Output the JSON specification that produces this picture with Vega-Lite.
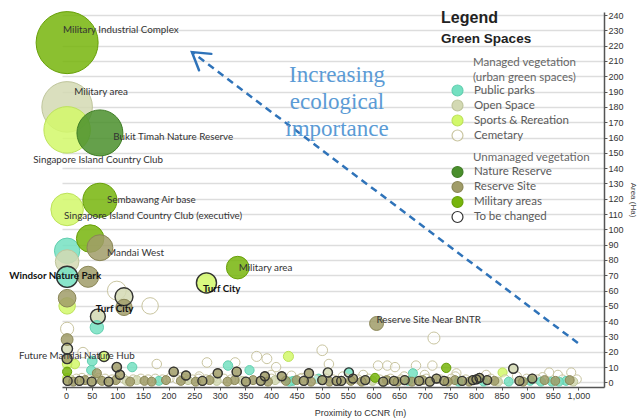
{
  "$schema": "https://vega.github.io/schema/vega-lite/v6.json",
  "width": 542,
  "height": 375,
  "autosize": {"type": "none"},
  "padding": {"left": 62, "top": 12, "right": 34, "bottom": 33},
  "background": "white",
  "config": {
    "view": {"stroke": null},
    "legend": {"padding": 0}
  },
  "datasets": {
    "spaces": [
      {"proximity": 2, "area": 222, "type": "Military areas", "changed": 0},
      {"proximity": 2, "area": 180, "type": "Open Space", "changed": 0},
      {"proximity": 2, "area": 165, "type": "Sports & Rereation", "changed": 0},
      {"proximity": 66, "area": 163, "type": "Nature Reserve", "changed": 0},
      {"proximity": 66, "area": 119, "type": "Military areas", "changed": 0},
      {"proximity": 2, "area": 113, "type": "Sports & Rereation", "changed": 0},
      {"proximity": 47, "area": 94, "type": "Military areas", "changed": 0},
      {"proximity": 66, "area": 88, "type": "Reserve Site", "changed": 0},
      {"proximity": 2, "area": 86, "type": "Public parks", "changed": 0},
      {"proximity": 2, "area": 79, "type": "Open Space", "changed": 0},
      {"proximity": 2, "area": 69, "type": "Public parks", "changed": 1},
      {"proximity": 43, "area": 69, "type": "Reserve Site", "changed": 0},
      {"proximity": 99, "area": 60, "type": "Cemetary", "changed": 0},
      {"proximity": 113, "area": 56, "type": "Open Space", "changed": 1},
      {"proximity": 113, "area": 49, "type": "Reserve Site", "changed": 0},
      {"proximity": 164, "area": 50, "type": "Cemetary", "changed": 0},
      {"proximity": 2, "area": 55, "type": "Reserve Site", "changed": 0},
      {"proximity": 2, "area": 50, "type": "Sports & Rereation", "changed": 0},
      {"proximity": 62, "area": 43, "type": "Open Space", "changed": 1},
      {"proximity": 60, "area": 36, "type": "Public parks", "changed": 0},
      {"proximity": 2, "area": 35, "type": "Cemetary", "changed": 0},
      {"proximity": 2, "area": 28, "type": "Reserve Site", "changed": 0},
      {"proximity": 274, "area": 65, "type": "Sports & Rereation", "changed": 1},
      {"proximity": 335, "area": 75, "type": "Military areas", "changed": 0},
      {"proximity": 606, "area": 38.5, "type": "Reserve Site", "changed": 0},
      {"proximity": 718, "area": 29, "type": "Cemetary", "changed": 0},
      {"proximity": 500, "area": 21, "type": "Cemetary", "changed": 0},
      {"proximity": 434, "area": 17, "type": "Sports & Rereation", "changed": 0},
      {"proximity": 74, "area": 17, "type": "Sports & Rereation", "changed": 1},
      {"proximity": 2, "area": 22, "type": "Open Space", "changed": 1},
      {"proximity": 2, "area": 15.5, "type": "Reserve Site", "changed": 1},
      {"proximity": 33, "area": 19.5, "type": "Cemetary", "changed": 0},
      {"proximity": 17, "area": 12, "type": "Sports & Rereation", "changed": 0},
      {"proximity": 2, "area": 12, "type": "Sports & Rereation", "changed": 0},
      {"proximity": 2, "area": 7, "type": "Military areas", "changed": 0},
      {"proximity": 2, "area": 3, "type": "Sports & Rereation", "changed": 0},
      {"proximity": 51, "area": 14, "type": "Public parks", "changed": 0},
      {"proximity": 49, "area": 8, "type": "Public parks", "changed": 0},
      {"proximity": 60, "area": 6, "type": "Reserve Site", "changed": 0},
      {"proximity": 99, "area": 10, "type": "Reserve Site", "changed": 1},
      {"proximity": 105, "area": 5, "type": "Reserve Site", "changed": 1},
      {"proximity": 129, "area": 10, "type": "Public parks", "changed": 0},
      {"proximity": 177, "area": 12, "type": "Cemetary", "changed": 0},
      {"proximity": 210, "area": 7, "type": "Reserve Site", "changed": 1},
      {"proximity": 234, "area": 4.5, "type": "Reserve Site", "changed": 1},
      {"proximity": 275, "area": 13, "type": "Cemetary", "changed": 0},
      {"proximity": 316, "area": 11, "type": "Public parks", "changed": 0},
      {"proximity": 330, "area": 13, "type": "Cemetary", "changed": 0},
      {"proximity": 296, "area": 6, "type": "Reserve Site", "changed": 1},
      {"proximity": 333, "area": 7, "type": "Reserve Site", "changed": 1},
      {"proximity": 358, "area": 8, "type": "Public parks", "changed": 0},
      {"proximity": 372, "area": 17, "type": "Cemetary", "changed": 0},
      {"proximity": 392, "area": 15.5, "type": "Cemetary", "changed": 0},
      {"proximity": 388, "area": 4, "type": "Reserve Site", "changed": 1},
      {"proximity": 421, "area": 4, "type": "Reserve Site", "changed": 1},
      {"proximity": 410, "area": 10, "type": "Cemetary", "changed": 0},
      {"proximity": 474, "area": 6, "type": "Reserve Site", "changed": 1},
      {"proximity": 493, "area": 2.5, "type": "Public parks", "changed": 0},
      {"proximity": 511, "area": 6.5, "type": "Open Space", "changed": 1},
      {"proximity": 513, "area": 12, "type": "Cemetary", "changed": 0},
      {"proximity": 552, "area": 6.5, "type": "Public parks", "changed": 1},
      {"proximity": 560, "area": 2.5, "type": "Reserve Site", "changed": 1},
      {"proximity": 609, "area": 11, "type": "Cemetary", "changed": 0},
      {"proximity": 627, "area": 11, "type": "Cemetary", "changed": 0},
      {"proximity": 642, "area": 10, "type": "Cemetary", "changed": 0},
      {"proximity": 603, "area": 3, "type": "Military areas", "changed": 0},
      {"proximity": 677, "area": 6, "type": "Public parks", "changed": 0},
      {"proximity": 683, "area": 11, "type": "Cemetary", "changed": 0},
      {"proximity": 715, "area": 11, "type": "Cemetary", "changed": 0},
      {"proximity": 742, "area": 9.5, "type": "Military areas", "changed": 0},
      {"proximity": 762, "area": 6, "type": "Cemetary", "changed": 0},
      {"proximity": 852, "area": 6.5, "type": "Sports & Rereation", "changed": 0},
      {"proximity": 873, "area": 9, "type": "Open Space", "changed": 1},
      {"proximity": 943, "area": 6.5, "type": "Cemetary", "changed": 0},
      {"proximity": 986, "area": 6.5, "type": "Cemetary", "changed": 0},
      {"proximity": 910, "area": 2.5, "type": "Reserve Site", "changed": 1},
      {"proximity": 807, "area": 3, "type": "Reserve Site", "changed": 1},
      {"proximity": 801, "area": 2, "type": "Reserve Site", "changed": 1},
      {"proximity": 723, "area": 2.5, "type": "Reserve Site", "changed": 1},
      {"proximity": 537, "area": 1, "type": "Reserve Site", "changed": 1},
      {"proximity": 528, "area": 1, "type": "Reserve Site", "changed": 1},
      {"proximity": 225, "area": 3.5, "type": "Cemetary", "changed": 0},
      {"proximity": 260, "area": 4, "type": "Cemetary", "changed": 0},
      {"proximity": 400, "area": 5, "type": "Cemetary", "changed": 0},
      {"proximity": 440, "area": 4.5, "type": "Cemetary", "changed": 0},
      {"proximity": 460, "area": 3, "type": "Cemetary", "changed": 0},
      {"proximity": 540, "area": 4, "type": "Cemetary", "changed": 0},
      {"proximity": 580, "area": 5, "type": "Cemetary", "changed": 0},
      {"proximity": 660, "area": 4, "type": "Cemetary", "changed": 0},
      {"proximity": 700, "area": 5, "type": "Cemetary", "changed": 0},
      {"proximity": 760, "area": 4, "type": "Cemetary", "changed": 0},
      {"proximity": 820, "area": 5, "type": "Cemetary", "changed": 0},
      {"proximity": 880, "area": 4, "type": "Cemetary", "changed": 0},
      {"proximity": 930, "area": 3.5, "type": "Cemetary", "changed": 0},
      {"proximity": 960, "area": 5, "type": "Cemetary", "changed": 0},
      {"proximity": 3, "area": 1, "type": "Reserve Site", "changed": 1},
      {"proximity": 8, "area": 2, "type": "Cemetary", "changed": 0},
      {"proximity": 14, "area": 0.5, "type": "Reserve Site", "changed": 0},
      {"proximity": 20, "area": 2.5, "type": "Cemetary", "changed": 0},
      {"proximity": 26, "area": 1, "type": "Reserve Site", "changed": 1},
      {"proximity": 31, "area": 3, "type": "Cemetary", "changed": 0},
      {"proximity": 37, "area": 1.5, "type": "Reserve Site", "changed": 0},
      {"proximity": 44, "area": 2, "type": "Cemetary", "changed": 0},
      {"proximity": 50, "area": 0.5, "type": "Reserve Site", "changed": 1},
      {"proximity": 57, "area": 2, "type": "Open Space", "changed": 0},
      {"proximity": 63, "area": 3, "type": "Cemetary", "changed": 0},
      {"proximity": 70, "area": 1, "type": "Reserve Site", "changed": 0},
      {"proximity": 76, "area": 2.5, "type": "Cemetary", "changed": 0},
      {"proximity": 83, "area": 0.5, "type": "Reserve Site", "changed": 1},
      {"proximity": 90, "area": 2, "type": "Cemetary", "changed": 0},
      {"proximity": 97, "area": 1.5, "type": "Reserve Site", "changed": 0},
      {"proximity": 112, "area": 2.5, "type": "Cemetary", "changed": 0},
      {"proximity": 118, "area": 1, "type": "Open Space", "changed": 0},
      {"proximity": 125, "area": 0.5, "type": "Reserve Site", "changed": 0},
      {"proximity": 131, "area": 2, "type": "Cemetary", "changed": 0},
      {"proximity": 138, "area": 1.5, "type": "Open Space", "changed": 0},
      {"proximity": 146, "area": 2.5, "type": "Cemetary", "changed": 0},
      {"proximity": 153, "area": 1, "type": "Reserve Site", "changed": 0},
      {"proximity": 160, "area": 2, "type": "Cemetary", "changed": 0},
      {"proximity": 167, "area": 0.5, "type": "Reserve Site", "changed": 0},
      {"proximity": 174, "area": 2.5, "type": "Cemetary", "changed": 0},
      {"proximity": 181, "area": 1, "type": "Public parks", "changed": 0},
      {"proximity": 188, "area": 2, "type": "Cemetary", "changed": 0},
      {"proximity": 195, "area": 1.5, "type": "Reserve Site", "changed": 0},
      {"proximity": 203, "area": 3, "type": "Cemetary", "changed": 0},
      {"proximity": 217, "area": 2, "type": "Cemetary", "changed": 0},
      {"proximity": 224, "area": 1, "type": "Reserve Site", "changed": 0},
      {"proximity": 231, "area": 2.5, "type": "Cemetary", "changed": 0},
      {"proximity": 238, "area": 1.5, "type": "Open Space", "changed": 0},
      {"proximity": 246, "area": 2, "type": "Cemetary", "changed": 0},
      {"proximity": 253, "area": 0.5, "type": "Reserve Site", "changed": 0},
      {"proximity": 259, "area": 2.5, "type": "Cemetary", "changed": 0},
      {"proximity": 266, "area": 1, "type": "Reserve Site", "changed": 1},
      {"proximity": 273, "area": 2, "type": "Cemetary", "changed": 0},
      {"proximity": 280, "area": 1.5, "type": "Reserve Site", "changed": 0},
      {"proximity": 287, "area": 3, "type": "Cemetary", "changed": 0},
      {"proximity": 294, "area": 1, "type": "Open Space", "changed": 0},
      {"proximity": 308, "area": 2.5, "type": "Cemetary", "changed": 0},
      {"proximity": 315, "area": 0.5, "type": "Reserve Site", "changed": 0},
      {"proximity": 322, "area": 2, "type": "Cemetary", "changed": 0},
      {"proximity": 329, "area": 1.5, "type": "Reserve Site", "changed": 0},
      {"proximity": 344, "area": 1, "type": "Open Space", "changed": 0},
      {"proximity": 351, "area": 0.5, "type": "Reserve Site", "changed": 1},
      {"proximity": 365, "area": 1.5, "type": "Reserve Site", "changed": 0},
      {"proximity": 380, "area": 1, "type": "Reserve Site", "changed": 1},
      {"proximity": 394, "area": 0.5, "type": "Reserve Site", "changed": 0},
      {"proximity": 401, "area": 2.5, "type": "Cemetary", "changed": 0},
      {"proximity": 408, "area": 1.5, "type": "Open Space", "changed": 0},
      {"proximity": 429, "area": 1, "type": "Reserve Site", "changed": 0},
      {"proximity": 436, "area": 0.5, "type": "Public parks", "changed": 0},
      {"proximity": 443, "area": 1, "type": "Public parks", "changed": 0},
      {"proximity": 450, "area": 1.5, "type": "Reserve Site", "changed": 0},
      {"proximity": 457, "area": 2.5, "type": "Cemetary", "changed": 0},
      {"proximity": 464, "area": 1, "type": "Reserve Site", "changed": 1},
      {"proximity": 478, "area": 0.5, "type": "Reserve Site", "changed": 0},
      {"proximity": 486, "area": 2, "type": "Cemetary", "changed": 0},
      {"proximity": 500, "area": 1.5, "type": "Reserve Site", "changed": 1},
      {"proximity": 507, "area": 2.5, "type": "Cemetary", "changed": 0},
      {"proximity": 514, "area": 0.5, "type": "Reserve Site", "changed": 0},
      {"proximity": 521, "area": 2, "type": "Cemetary", "changed": 0},
      {"proximity": 549, "area": 2.5, "type": "Cemetary", "changed": 0},
      {"proximity": 556, "area": 1, "type": "Reserve Site", "changed": 0},
      {"proximity": 570, "area": 2, "type": "Cemetary", "changed": 0},
      {"proximity": 577, "area": 0.5, "type": "Reserve Site", "changed": 0},
      {"proximity": 584, "area": 1.5, "type": "Reserve Site", "changed": 1},
      {"proximity": 591, "area": 2.5, "type": "Cemetary", "changed": 0},
      {"proximity": 598, "area": 1, "type": "Open Space", "changed": 0},
      {"proximity": 612, "area": 2, "type": "Cemetary", "changed": 0},
      {"proximity": 619, "area": 0.5, "type": "Reserve Site", "changed": 1},
      {"proximity": 626, "area": 1.5, "type": "Reserve Site", "changed": 0},
      {"proximity": 633, "area": 2.5, "type": "Cemetary", "changed": 0},
      {"proximity": 640, "area": 1, "type": "Reserve Site", "changed": 1},
      {"proximity": 647, "area": 0.5, "type": "Reserve Site", "changed": 0},
      {"proximity": 654, "area": 2, "type": "Cemetary", "changed": 0},
      {"proximity": 661, "area": 1.5, "type": "Reserve Site", "changed": 1},
      {"proximity": 668, "area": 1, "type": "Public parks", "changed": 0},
      {"proximity": 675, "area": 0.5, "type": "Reserve Site", "changed": 0},
      {"proximity": 689, "area": 1, "type": "Reserve Site", "changed": 1},
      {"proximity": 696, "area": 1.5, "type": "Reserve Site", "changed": 0},
      {"proximity": 703, "area": 2.5, "type": "Cemetary", "changed": 0},
      {"proximity": 710, "area": 0.5, "type": "Reserve Site", "changed": 1},
      {"proximity": 731, "area": 2, "type": "Cemetary", "changed": 0},
      {"proximity": 738, "area": 1, "type": "Reserve Site", "changed": 1},
      {"proximity": 745, "area": 0.5, "type": "Reserve Site", "changed": 0},
      {"proximity": 752, "area": 2.5, "type": "Cemetary", "changed": 0},
      {"proximity": 759, "area": 1.5, "type": "Reserve Site", "changed": 0},
      {"proximity": 766, "area": 0.5, "type": "Public parks", "changed": 0},
      {"proximity": 773, "area": 1, "type": "Reserve Site", "changed": 1},
      {"proximity": 780, "area": 2, "type": "Cemetary", "changed": 0},
      {"proximity": 787, "area": 0.5, "type": "Reserve Site", "changed": 0},
      {"proximity": 794, "area": 1.5, "type": "Reserve Site", "changed": 1},
      {"proximity": 815, "area": 0.5, "type": "Public parks", "changed": 0},
      {"proximity": 822, "area": 1.5, "type": "Reserve Site", "changed": 1},
      {"proximity": 829, "area": 2.5, "type": "Cemetary", "changed": 0},
      {"proximity": 836, "area": 1, "type": "Reserve Site", "changed": 0},
      {"proximity": 843, "area": 0.5, "type": "Open Space", "changed": 0},
      {"proximity": 857, "area": 2, "type": "Cemetary", "changed": 0},
      {"proximity": 864, "area": 0.5, "type": "Public parks", "changed": 0},
      {"proximity": 885, "area": 1, "type": "Reserve Site", "changed": 1},
      {"proximity": 892, "area": 0.5, "type": "Reserve Site", "changed": 0},
      {"proximity": 899, "area": 2.5, "type": "Cemetary", "changed": 0},
      {"proximity": 906, "area": 1, "type": "Public parks", "changed": 0},
      {"proximity": 920, "area": 2, "type": "Cemetary", "changed": 0},
      {"proximity": 927, "area": 0.5, "type": "Public parks", "changed": 0},
      {"proximity": 934, "area": 1.5, "type": "Reserve Site", "changed": 0},
      {"proximity": 948, "area": 0.5, "type": "Public parks", "changed": 0},
      {"proximity": 955, "area": 1, "type": "Reserve Site", "changed": 0},
      {"proximity": 962, "area": 0.5, "type": "Public parks", "changed": 0},
      {"proximity": 969, "area": 2, "type": "Cemetary", "changed": 0},
      {"proximity": 976, "area": 1, "type": "Public parks", "changed": 0},
      {"proximity": 983, "area": 1.5, "type": "Reserve Site", "changed": 0},
      {"proximity": 990, "area": 0.5, "type": "Open Space", "changed": 0},
      {"proximity": 997, "area": 2, "type": "Cemetary", "changed": 0}
    ],
    "labels": [
      {"label": "Military Industrial Complex", "proximity": -6, "area": 230.5, "bold": 0},
      {"label": "Military area", "proximity": 16, "area": 189.5, "bold": 0},
      {"label": "Bukit Timah Nature Reserve", "proximity": 92, "area": 160.5, "bold": 0},
      {"label": "Singapore Island Country Club", "proximity": -64, "area": 145.5, "bold": 0},
      {"label": "Sembawang Air base", "proximity": 80, "area": 119, "bold": 0},
      {"label": "Singapore Island Country Club (executive)", "proximity": -4, "area": 108.5, "bold": 0},
      {"label": "Mandai West", "proximity": 80, "area": 84.5, "bold": 0},
      {"label": "Windsor Nature Park", "proximity": -111, "area": 69.5, "bold": 1},
      {"label": "Military area", "proximity": 337, "area": 74.5, "bold": 0},
      {"label": "Turf City", "proximity": 267, "area": 61, "bold": 1},
      {"label": "Turf City", "proximity": 58, "area": 48, "bold": 1},
      {"label": "Future Mandai Nature Hub", "proximity": -92, "area": 17, "bold": 0},
      {"label": "Reserve Site Near BNTR", "proximity": 606, "area": 41, "bold": 0}
    ],
    "arrow": [
      {"proximity": 999, "area": 25.7, "toProximity": 245.7, "toArea": 215.8}
    ],
    "arrowhead": [
      {"proximity": 245.7, "area": 215.8}
    ],
    "notes": [
      {"note": "Increasing|ecological|importance", "proximity": 528.8, "area": 200.8}
    ],
    "heads": [
      {"head": "Legend", "proximity": 732, "area": 237.9, "level": 1},
      {"head": "Green Spaces", "proximity": 732, "area": 224.4, "level": 2}
    ]
  },
  "encoding": {
    "x": {"field": "proximity", "type": "quantitative", "scale": {"domain": [-8, 1050], "nice": false, "zero": false},
      "axis": {"values": [0,50,100,150,200,250,300,350,400,450,500,550,600,650,700,750,800,850,900,950,1000], "format": ",.0f", "grid": false,
        "title": "Proximity to CCNR (m)", "labelFont": "Liberation Sans", "labelFontSize": 9, "labelColor": "#333",
        "tickColor": "#555", "domainColor": "#555", "domainWidth": 1.5, "tickSize": 3, "labelPadding": 1,
        "titleFont": "Liberation Sans", "titleFontSize": 9, "titleFontWeight": "normal", "titleColor": "#333",
        "titleX": 298, "titleY": 25, "titleBaseline": "middle"}},
    "y": {"field": "area", "type": "quantitative", "scale": {"domain": [-3, 242], "nice": false, "zero": false},
      "axis": {"orient": "right", "values": [0,10,20,30,40,50,60,70,80,90,100,110,120,130,140,150,160,170,180,190,200,210,220,230,240],
        "grid": true, "gridColor": "#dddddd", "gridWidth": 1.5, "labelFont": "Liberation Sans", "labelFontSize": 9, "labelColor": "#333",
        "tickColor": "#555", "domainColor": "#555", "domainWidth": 1.5, "tickSize": 3, "labelPadding": 1,
        "title": "Area (Ha)", "titleFont": "Liberation Sans", "titleFontSize": 8, "titleFontWeight": "normal", "titleColor": "#444", "titlePadding": 5}}
  },
  "layer": [
    {
      "data": {"name": "spaces"},
      "transform": [{"filter": {"field": "type", "oneOf": ["Public parks", "Open Space", "Sports & Rereation", "Cemetary"]}}],
      "mark": {"type": "circle", "fillOpacity": 0.85, "strokeOpacity": 1, "strokeWidth": 1},
      "encoding": {
        "size": {"field": "area", "type": "quantitative", "scale": {"type": "pow", "exponent": 2, "domain": [0, 222], "range": [80, 3848]}, "legend": null},
        "fill": {"field": "type", "type": "nominal",
          "scale": {"domain": ["Public parks", "Open Space", "Sports & Rereation", "Cemetary"], "range": ["#74e0c1", "#d3d9b3", "#d2f86a", "rgba(255,255,255,0.5)"]},
          "legend": {"title": ["Managed vegetation", " (urban green spaces)"], "orient": "none", "legendX": 389, "legendY": 45,
            "symbolType": "circle", "symbolSize": 120, "symbolStrokeWidth": 1.2, "labelFont": "Lato", "labelFontSize": 11.5, "labelColor": "#5a5a5a",
            "titleFont": "Lato", "titleFontSize": 11.5, "titleFontWeight": "normal", "titleColor": "#666", "titleLineHeight": 14.5,
            "titlePadding": 1, "rowPadding": -2.5, "labelOffset": 10, "encode": {"title": {"update": {"dx": {"value": 22}}}}}},
        "stroke": {"field": "type", "type": "nominal",
          "scale": {"domain": ["Public parks", "Open Space", "Sports & Rereation", "Cemetary"], "range": ["#62cfb0", "#bfc59c", "#bde25a", "#c9c5a0"]},
          "legend": {"title": ["Managed vegetation", " (urban green spaces)"], "orient": "none", "legendX": 389, "legendY": 45,
            "symbolType": "circle", "symbolSize": 120, "symbolStrokeWidth": 1.2, "labelFont": "Lato", "labelFontSize": 11.5, "labelColor": "#5a5a5a",
            "titleFont": "Lato", "titleFontSize": 11.5, "titleFontWeight": "normal", "titleColor": "#666", "titleLineHeight": 14.5,
            "titlePadding": 1, "rowPadding": -2.5, "labelOffset": 10, "encode": {"title": {"update": {"dx": {"value": 22}}}}}},
        "order": {"field": "area", "sort": "descending"}
      }
    },
    {
      "data": {"name": "spaces"},
      "transform": [{"filter": {"field": "type", "oneOf": ["Nature Reserve", "Reserve Site", "Military areas"]}}],
      "mark": {"type": "circle", "fillOpacity": 0.85, "strokeOpacity": 1, "strokeWidth": 1},
      "encoding": {
        "size": {"field": "area", "type": "quantitative", "scale": {"type": "pow", "exponent": 2, "domain": [0, 222], "range": [80, 3848]}, "legend": null},
        "fill": {"field": "type", "type": "nominal",
          "scale": {"domain": ["Nature Reserve", "Reserve Site", "Military areas", "To be changed"], "range": ["#4a8f2c", "#a09c68", "#77b50c", "#ffffff"]},
          "legend": {"title": "Unmanaged vegetation", "orient": "none", "legendX": 389, "legendY": 140,
            "symbolType": "circle", "symbolSize": 120, "symbolStrokeWidth": 1.2, "labelFont": "Lato", "labelFontSize": 11.5, "labelColor": "#5a5a5a",
            "titleFont": "Lato", "titleFontSize": 11.5, "titleFontWeight": "normal", "titleColor": "#666",
            "titlePadding": 2, "rowPadding": -2.5, "labelOffset": 10, "encode": {"title": {"update": {"dx": {"value": 22}}}}}},
        "stroke": {"field": "type", "type": "nominal",
          "scale": {"domain": ["Nature Reserve", "Reserve Site", "Military areas", "To be changed"], "range": ["#3f7d25", "#8a8656", "#68a008", "#333333"]},
          "legend": {"title": "Unmanaged vegetation", "orient": "none", "legendX": 389, "legendY": 140,
            "symbolType": "circle", "symbolSize": 120, "symbolStrokeWidth": 1.2, "labelFont": "Lato", "labelFontSize": 11.5, "labelColor": "#5a5a5a",
            "titleFont": "Lato", "titleFontSize": 11.5, "titleFontWeight": "normal", "titleColor": "#666",
            "titlePadding": 2, "rowPadding": -2.5, "labelOffset": 10, "encode": {"title": {"update": {"dx": {"value": 22}}}}}},
        "order": {"field": "area", "sort": "descending"}
      }
    },
    {
      "data": {"name": "spaces"},
      "transform": [{"filter": {"field": "changed", "equal": 1}}],
      "mark": {"type": "point", "shape": "circle", "filled": false, "stroke": "#333333", "strokeWidth": 1.4, "opacity": 1},
      "encoding": {
        "size": {"field": "area", "type": "quantitative", "scale": {"type": "pow", "exponent": 2, "domain": [0, 222], "range": [80, 3848]}, "legend": null}
      }
    },
    {
      "data": {"name": "labels"},
      "transform": [{"filter": {"field": "bold", "equal": 0}}],
      "mark": {"type": "text", "align": "left", "baseline": "middle", "font": "Lato", "fontSize": 9.8, "color": "#333"},
      "encoding": {
        "text": {"field": "label"}
      }
    },
    {
      "data": {"name": "labels"},
      "transform": [{"filter": {"field": "bold", "equal": 1}}],
      "mark": {"type": "text", "align": "left", "baseline": "middle", "font": "Lato", "fontSize": 9.8, "fontWeight": "bold", "color": "#111"},
      "encoding": {
        "text": {"field": "label"}
      }
    },
    {
      "data": {"name": "arrow"},
      "mark": {"type": "rule", "color": "#2f73b9", "strokeWidth": 2.5, "strokeDash": [7, 5]},
      "encoding": {
        "x2": {"field": "toProximity"},
        "y2": {"field": "toArea"}
      }
    },
    {
      "data": {"name": "arrowhead"},
      "mark": {"type": "point", "shape": "M-1,-0.62L0,0L-1,0.62", "angle": 217, "size": 1100, "filled": false, "stroke": "#2f73b9", "strokeWidth": 2.5, "strokeCap": "round", "opacity": 1},
      "encoding": {}
    },
    {
      "data": {"name": "notes"},
      "mark": {"type": "text", "align": "center", "baseline": "middle", "font": "Liberation Serif", "fontSize": 23, "lineHeight": 27, "lineBreak": "|", "color": "#5b9bd5"},
      "encoding": {
        "text": {"field": "note"}
      }
    },
    {
      "data": {"name": "heads"},
      "transform": [{"filter": {"field": "level", "equal": 1}}],
      "mark": {"type": "text", "align": "left", "baseline": "middle", "font": "Liberation Sans", "fontSize": 16, "fontWeight": "bold", "color": "#222"},
      "encoding": {
        "text": {"field": "head"}
      }
    },
    {
      "data": {"name": "heads"},
      "transform": [{"filter": {"field": "level", "equal": 2}}],
      "mark": {"type": "text", "align": "left", "baseline": "middle", "font": "Liberation Sans", "fontSize": 13.5, "fontWeight": "bold", "color": "#222"},
      "encoding": {
        "text": {"field": "head"}
      }
    }
  ],
  "resolve": {"scale": {"fill": "independent", "stroke": "independent"}, "legend": {"fill": "independent", "stroke": "independent"}}
}
